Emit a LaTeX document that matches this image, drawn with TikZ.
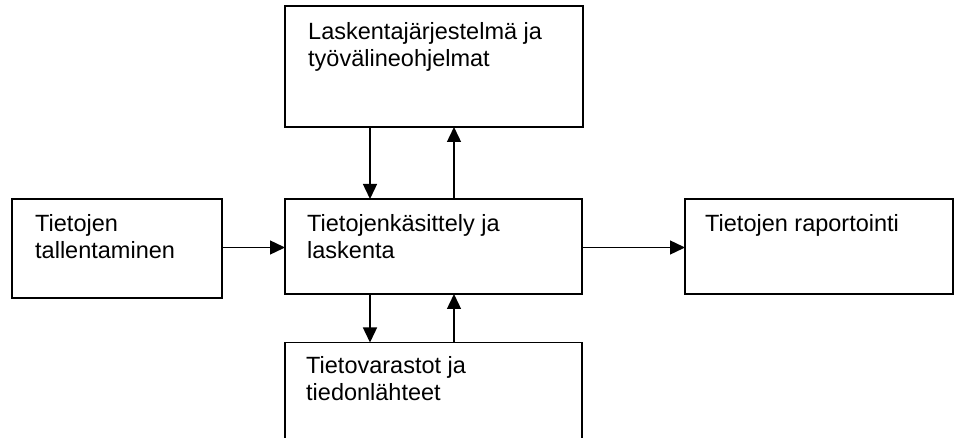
\documentclass[tikz,border=0pt]{standalone}
\usepackage{fontspec}
\setmainfont{Liberation Sans}
\usetikzlibrary{arrows.meta}
\begin{document}
\begin{tikzpicture}[x=1pt,y=-1pt,
  box/.style={draw=black,line width=1.4pt,fill=white,anchor=north west,inner sep=0pt,outer sep=0pt},
  txt/.style={anchor=base west,inner sep=0pt,align=left,font=\fontsize{23.5}{26.7}\selectfont},
  conn/.style={draw=black,line width=1.4pt,-{Triangle[length=15pt,width=14pt]}}]
\useasboundingbox (0,0) rectangle (959,438);
\clip (0,0) rectangle (959,438);
\fill[white] (0,0) rectangle (959,438);
% boxes
\node[box,minimum width=298pt,minimum height=121pt] (top) at (285,6) {};
\node[box,minimum width=210pt,minimum height=99pt] (left) at (12,199) {};
\node[box,minimum width=297pt,minimum height=95pt] (center) at (285,199) {};
\node[box,minimum width=268pt,minimum height=95pt] (right) at (685,199) {};
\node[box,minimum width=297pt,minimum height=110pt] (bottom) at (285,342.5) {};
% texts (base = baseline of the last line)
\node[txt] (ttop) at (308,66.7) {Laskentajärjestelmä ja\\työvälineohjelmat};
\node[txt] (tleft) at (35,258.4) {Tietojen\\tallentaminen};
\node[txt] (tcenter) at (307,258.4) {Tietojenkäsittely ja\\laskenta};
\node[txt] (tright) at (705,231.7) {Tietojen raportointi};
\node[txt] (tbottom) at (306,400) {Tietovarastot ja\\tiedonlähteet};
% connector columns
\coordinate (xa) at (370,0);
\coordinate (xb) at (454,0);
\coordinate (ym) at (0,247.5);
% connectors
\draw[conn] (left.east |- ym) -- (center.west |- ym);
\draw[conn] (center.east |- ym) -- (right.west |- ym);
\draw[conn] (top.south -| xa) -- (center.north -| xa);
\draw[conn] (center.north -| xb) -- (top.south -| xb);
\draw[conn] (center.south -| xa) -- (bottom.north -| xa);
\draw[conn] (bottom.north -| xb) -- (center.south -| xb);
\end{tikzpicture}
\end{document}
